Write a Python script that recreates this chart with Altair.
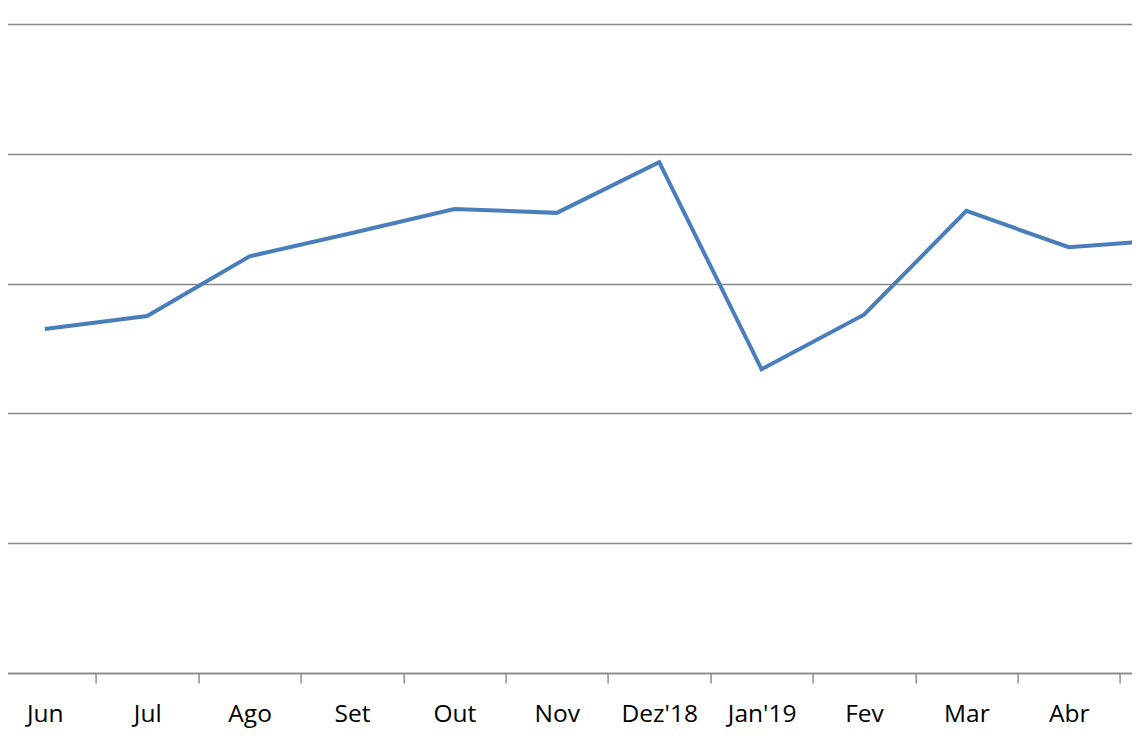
import altair as alt
import pandas as pd

months = ["Jun", "Jul", "Ago", "Set", "Out", "Nov", "Dez'18", "Jan'19", "Fev", "Mar", "Abr", "Mai"]
values = [2.65, 2.75, 3.21, 3.39, 3.575, 3.545, 3.935, 2.34, 2.76, 3.56, 3.28, 3.34]
grid_values = [0, 1, 2, 3, 4, 5]

df = pd.DataFrame({"month": months, "value": values})

chart = (
    alt.Chart(df)
    .mark_line(color="#4A7EBB", strokeWidth=4, clip=False)
    .encode(
        x=alt.X(
            "month:N",
            sort=months,
            bandPosition=0.5,
            scale=alt.Scale(type="band", paddingInner=0, paddingOuter=0),
            axis=alt.Axis(
                title=None,
                labelAngle=0,
                tickBand="extent",
                grid=False,
                domainColor="#878787",
                domainWidth=1.4,
                tickColor="#878787",
                tickWidth=1.4,
                tickSize=10,
                labelFont="Open Sans",
                labelFontSize=24.5,
                labelColor="#000000",
                labelBaseline="alphabetic",
                labelPadding=38,
                labelOverlap=False,
            ),
        ),
        y=alt.Y(
            "value:Q",
            scale=alt.Scale(domain=[0, 5], nice=False, zero=True),
            axis=alt.Axis(
                title=None,
                values=grid_values,
                labels=False,
                ticks=False,
                domain=False,
                grid=True,
                gridColor="#878787",
                gridWidth=1.4,
            ),
        ),
    )
    .properties(
        width=1228.8,
        height=649,
        padding={"left": -14.4, "top": 16, "right": -90.4, "bottom": 55},
        autosize=alt.AutoSizeParams(type="none"),
    )
    .configure_view(stroke=None)
)

chart.save("out.html", embed_options={"renderer": "svg", "actions": False})
